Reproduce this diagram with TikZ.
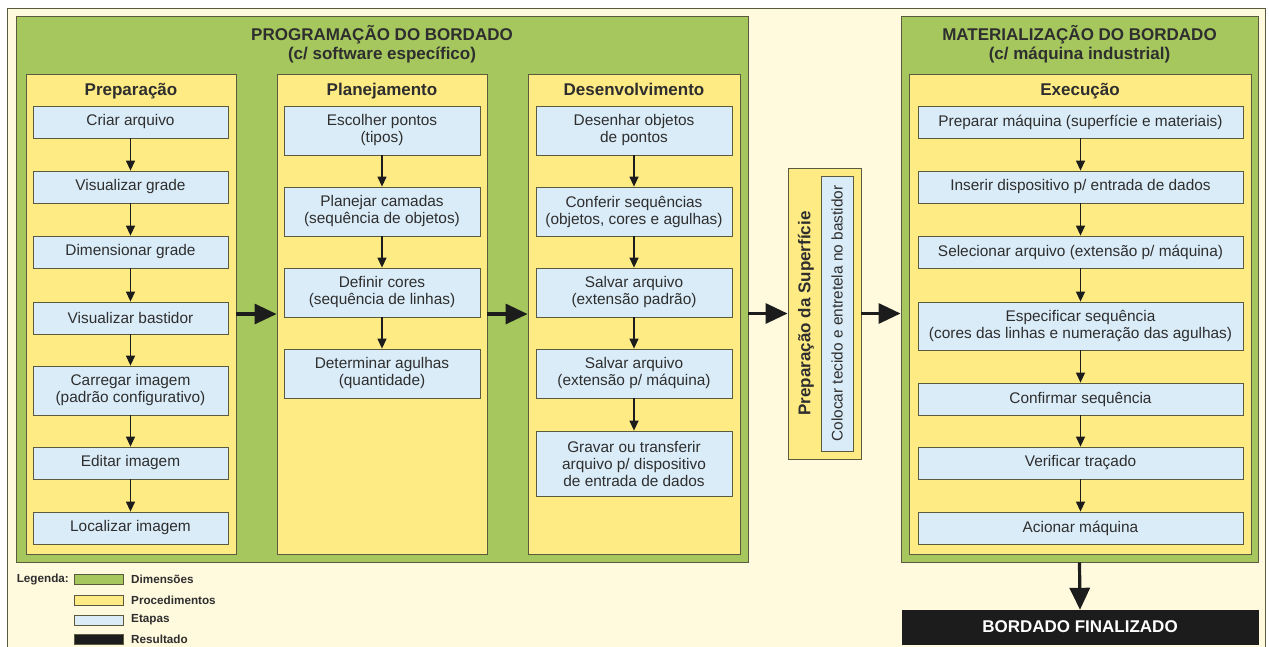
\documentclass[tikz,border=0pt]{standalone}
\usepackage{fontspec}
\setmainfont{Liberation Sans}
\usetikzlibrary{arrows.meta}
\definecolor{bgc}{HTML}{FFF9DE}
\definecolor{greenc}{HTML}{A5C75E}
\definecolor{yellowc}{HTML}{FFEB84}
\definecolor{bluec}{HTML}{DAECF8}
\definecolor{bord}{HTML}{5A5A40}
\definecolor{txt}{HTML}{2E2E2E}
\definecolor{blackc}{HTML}{1C1C1C}
\newcommand{\boxat}[7]{\node[#2, minimum width={(#5-#3)*1pt}, minimum height={(#6-#4)*1pt}] (#1) at ({(#3+#5)/2},{(#4+#6)/2}) {#7};}
\begin{document}
\begin{tikzpicture}[x=1pt,y=-1pt,
  dimbox/.style={draw=bord, fill=greenc, line width=0.9pt, inner sep=0pt},
  procbox/.style={draw=bord, fill=yellowc, line width=0.9pt, inner sep=0pt},
  stepbox/.style={draw=bord, fill=bluec, line width=0.8pt, inner sep=0pt, align=center, text=txt, font=\fontsize{15.4}{17}\selectfont},
  hdr/.style={font=\bfseries\fontsize{17}{19}\selectfont, text=txt, inner sep=0pt},
  ttl/.style={font=\bfseries\fontsize{17}{18.5}\selectfont, text=txt, align=center, inner sep=0pt},
  conn/.style={-{Triangle[length=10pt,width=9pt]}, line width=1.3pt, draw=blackc},
  bigarrow/.style={-{Triangle[length=22pt,width=20pt]}, line width=3.2pt, draw=blackc},
  legsw/.style={draw=bord, line width=0.6pt, minimum width=49pt, minimum height=10pt, inner sep=0pt},
  legtxt/.style={font=\bfseries\fontsize{11.7}{13}\selectfont, text=txt, anchor=west, inner sep=0pt}
]
\useasboundingbox (0,0) rectangle (1269,646);
\fill[white] (0,0) rectangle (1269,646);
\draw[draw=bord, fill=bgc, line width=0.9pt] (7,8) rectangle (1265,680);

% Programacao
\boxat{g1}{dimbox}{16}{16}{748}{562}{}
\node[ttl] (t1) at (382,44) {PROGRAMAÇÃO DO BORDADO\\(c/ software específico)};
\boxat{prep}{procbox}{26}{74}{236}{554}{}
\boxat{plan}{procbox}{277}{74}{487}{554}{}
\boxat{desen}{procbox}{528}{74}{740}{554}{}
\node[hdr, anchor=base] (hprep) at (131,95.5) {Preparação};
\node[hdr, anchor=base] (hplan) at (382,95.5) {Planejamento};
\node[hdr, anchor=base] (hdes) at (634,95.5) {Desenvolvimento};

\boxat{c1}{stepbox}{33}{106}{228}{138}{Criar arquivo}
\boxat{c2}{stepbox}{33}{171}{228}{203}{Visualizar grade}
\boxat{c3}{stepbox}{33}{236}{228}{268}{Dimensionar grade}
\boxat{c4}{stepbox}{33}{302}{228}{334}{Visualizar bastidor}
\boxat{c5}{stepbox}{33}{366}{228}{415}{Carregar imagem\\(padrão configurativo)}
\boxat{c6}{stepbox}{33}{447}{228}{479}{Editar imagem}
\boxat{c7}{stepbox}{33}{512}{228}{544}{Localizar imagem}

\boxat{p1}{stepbox}{284}{106}{480}{155}{Escolher pontos\\(tipos)}
\boxat{p2}{stepbox}{284}{187}{480}{236}{Planejar camadas\\(sequência de objetos)}
\boxat{p3}{stepbox}{284}{268}{480}{317}{Definir cores\\(sequência de linhas)}
\boxat{p4}{stepbox}{284}{349}{480}{398}{Determinar agulhas\\(quantidade)}

\boxat{d1}{stepbox}{536}{106}{732}{155}{Desenhar objetos\\de pontos}
\boxat{d2}{stepbox}{536}{187}{732}{236}{Conferir sequências\\(objetos, cores e agulhas)}
\boxat{d3}{stepbox}{536}{268}{732}{317}{Salvar arquivo\\(extensão padrão)}
\boxat{d4}{stepbox}{536}{349}{732}{398}{Salvar arquivo\\(extensão p/ máquina)}
\boxat{d5}{stepbox}{536}{431}{732}{496}{Gravar ou transferir\\arquivo p/ dispositivo\\de entrada de dados}

% Preparacao da superficie
\boxat{ps}{procbox}{788}{168}{861}{459}{}
\boxat{psb}{draw=bord, fill=bluec, line width=0.8pt, inner sep=0pt}{821}{176}{853}{451}{}
\node[rotate=90, inner sep=0pt, text=txt, font=\fontsize{15.4}{17}\selectfont] (psbt) at (psb.center) {Colocar tecido e entretela no bastidor};
\node[hdr, rotate=90] (psh) at (806,313.5) {Preparação da Superfície};

% Materializacao
\boxat{g2}{dimbox}{901}{16}{1258}{562}{}
\node[ttl] (t2) at (1079.5,44) {MATERIALIZAÇÃO DO BORDADO\\(c/ máquina industrial)};
\boxat{exec}{procbox}{909}{74}{1251}{554}{}
\node[hdr, anchor=base] (hexe) at (1080,95.5) {Execução};
\boxat{e1}{stepbox}{918}{106}{1243}{138}{Preparar máquina (superfície e materiais)}
\boxat{e2}{stepbox}{918}{171}{1243}{203}{Inserir dispositivo p/ entrada de dados}
\boxat{e3}{stepbox}{918}{236}{1243}{268}{Selecionar arquivo (extensão p/ máquina)}
\boxat{e4}{stepbox}{918}{302}{1243}{350}{Especificar sequência\\(cores das linhas e numeração das agulhas)}
\boxat{e5}{stepbox}{918}{383}{1243}{415}{Confirmar sequência}
\boxat{e6}{stepbox}{918}{447}{1243}{479}{Verificar traçado}
\boxat{e7}{stepbox}{918}{512}{1243}{544}{Acionar máquina}

\boxat{fin}{draw=blackc, fill=blackc, inner sep=0pt, text=white, font=\bfseries\fontsize{17}{19}\selectfont}{902}{610}{1258}{644}{BORDADO FINALIZADO}

% connectors
\foreach \a/\b in {c1/c2,c2/c3,c3/c4,c4/c5,c5/c6,c6/c7,p1/p2,p2/p3,p3/p4,d1/d2,d2/d3,d3/d4,d4/d5,e1/e2,e2/e3,e3/e4,e4/e5,e5/e6,e6/e7}
  \draw[conn] (\a.south) -- (\b.north);

\draw[bigarrow] (prep.east) -- (plan.west);
\draw[bigarrow] (plan.east) -- (desen.west);
\draw[bigarrow] (g1.east |- ps.west) -- (ps.west);
\draw[bigarrow] (ps.east) -- (g2.west |- ps.east);
\draw[bigarrow] (g2.south) -- (fin.north);

% legend
\node[legtxt, anchor=east] (leg) at (69,579) {Legenda:};
\node[legsw, fill=greenc] (lg1) at (98.5,579) {};
\node[legsw, fill=yellowc] (lg2) at (98.5,600) {};
\node[legsw, fill=bluec] (lg3) at (98.5,620) {};
\node[legsw, fill=blackc] (lg4) at (98.5,639) {};
\node[legtxt] (lt1) at (131,579) {Dimensões};
\node[legtxt] (lt2) at (131,600) {Procedimentos};
\node[legtxt] (lt3) at (131,620) {Etapas};
\node[legtxt] (lt4) at (131,639) {Resultado};
\end{tikzpicture}
\end{document}
